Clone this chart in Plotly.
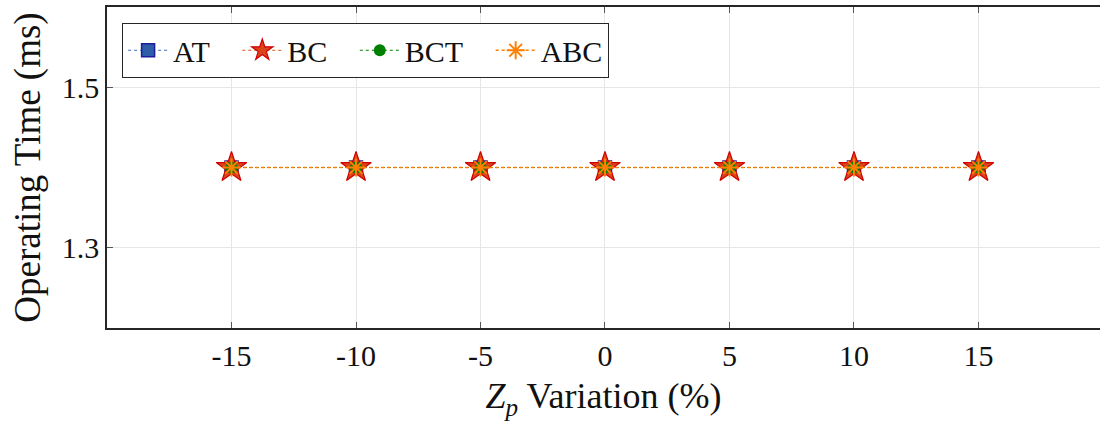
import plotly.graph_objects as go

x_vals = [-15, -10, -5, 0, 5, 10, 15]
at_vals = [1.4, 1.4, 1.4, 1.4, 1.4, 1.4, 1.4]
bc_vals = [1.4, 1.4, 1.4, 1.4, 1.4, 1.4, 1.4]
bct_vals = [1.4, 1.4, 1.4, 1.4, 1.4, 1.4, 1.4]
abc_vals = [1.4, 1.4, 1.4, 1.4, 1.4, 1.4, 1.4]
x_ticks = [-15, -10, -5, 0, 5, 10, 15]
y_ticks = [1.3, 1.5]

FONT = "Liberation Serif"
PAD = "\u00a0\u00a0\u00a0"

fig = go.Figure()
fig.add_trace(go.Scatter(
    x=x_vals, y=at_vals, name="AT" + PAD, mode="lines+markers",
    line=dict(color="#3b6fc4", width=1.0, dash="dot"),
    marker=dict(symbol="square", size=13, color="#2f5da8", line=dict(color="#1c1c9c", width=1.5))))
fig.add_trace(go.Scatter(
    x=x_vals, y=bc_vals, name="BC" + PAD, mode="lines+markers",
    line=dict(color="#d95319", width=1.0, dash="dot"),
    marker=dict(symbol="star", size=23, color="#d9461c", line=dict(color="#d00000", width=1.2))))
fig.add_trace(go.Scatter(
    x=x_vals, y=bct_vals, name="BCT" + PAD, mode="lines+markers",
    line=dict(color="#008000", width=1.0, dash="dot"),
    marker=dict(symbol="circle", size=12, color="#008000", line=dict(color="#008000", width=0))))
fig.add_trace(go.Scatter(
    x=x_vals, y=abc_vals, name="ABC", mode="lines+markers",
    line=dict(color="#ff8000", width=1.6, dash="dot"),
    marker=dict(symbol="asterisk-open", size=15, color="#ff8000", line=dict(color="#ff8000", width=2))))

# top axis for box top border + ticks
fig.add_trace(go.Scatter(x=[x_vals[0]], y=[at_vals[0]], xaxis="x2", showlegend=False,
                         mode="markers", marker=dict(opacity=0), hoverinfo="skip"))

axis_common = dict(ticks="inside", ticklen=6, tickwidth=1.3, tickcolor="#555555",
                   showline=True, linecolor="#262626", linewidth=1.5,
                   gridcolor="#e6e6e6", gridwidth=1.3, zeroline=False)

fig.update_layout(
    width=1100, height=424,
    margin=dict(l=107, r=0, t=7, b=96, autoexpand=False),
    paper_bgcolor="white", plot_bgcolor="white",
    font=dict(family=FONT, size=30, color="#262626"),
    showlegend=True,
    legend=dict(orientation="h", x=0.015, y=0.95, xanchor="left", yanchor="top",
                bordercolor="#262626", borderwidth=1.2, bgcolor="white",
                font=dict(family=FONT, size=30, color="#111111"),
                itemwidth=40, tracegroupgap=0),
    xaxis=dict(range=[-20, 19.88], tickvals=x_ticks, ticktext=[str(v) for v in x_ticks],
               showgrid=True, title=dict(text="<i>Z</i><sub><i>p</i></sub> Variation (%)",
                                         font=dict(size=36, family=FONT, color="#111111"), standoff=12),
               tickfont=dict(size=30, family=FONT, color="#111111"), **axis_common),
    xaxis2=dict(overlaying="x", side="top", range=[-20, 19.88], tickvals=x_ticks,
                showticklabels=False, showgrid=False,
                ticks="inside", ticklen=6, tickwidth=1.3, tickcolor="#555555",
                showline=True, linecolor="#262626", linewidth=1.5, zeroline=False),
    yaxis=dict(range=[1.2, 1.6], tickvals=y_ticks, ticktext=["1.3", "1.5"],
               showgrid=True, title=dict(text="Operating Time (ms)",
                                         font=dict(size=37, family=FONT, color="#111111"), standoff=10),
               tickfont=dict(size=30, family=FONT, color="#111111"), **axis_common),
)

fig.write_html("out.html", config={"displayModeBar": False},
               post_script="document.body.style.margin='0';document.body.style.overflow='hidden';")
